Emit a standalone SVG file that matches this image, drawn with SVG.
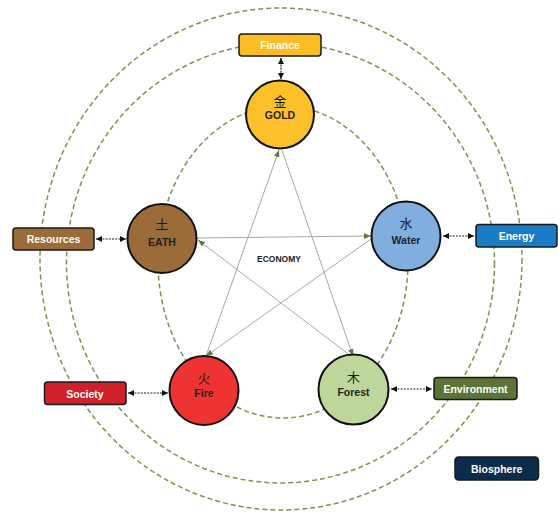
<svg xmlns="http://www.w3.org/2000/svg" width="558" height="513" viewBox="0 0 558 513">
<style>
.ring{fill:none;stroke:#7a9650;stroke-width:1.5;stroke-dasharray:5 3}
.star{fill:none;stroke:#a8aaa4;stroke-width:1;marker-end:url(#ag)}
.link{fill:none;stroke:#222;stroke-width:1.2;stroke-dasharray:2 1.2;marker-start:url(#ab);marker-end:url(#ab)}
.el{stroke:#111;stroke-width:2}
.box{stroke:#1a1a1a;stroke-width:1.5}
.ch{font-family:"Noto Sans CJK SC","Noto Sans CJK JP",sans-serif;font-size:13px;fill:#1a1a1a;text-anchor:middle}
.en{font-family:"Liberation Sans",Arial,sans-serif;font-weight:bold;font-size:10.5px;fill:#1f1f1f;text-anchor:middle}
.bt{font-family:"Liberation Sans",Arial,sans-serif;font-weight:bold;font-size:10.5px;fill:#fff;text-anchor:middle}
.eco{font-family:"Liberation Sans",Arial,sans-serif;font-weight:bold;font-size:8.5px;fill:#222;text-anchor:middle}
</style>
<defs>
<marker id="ag" viewBox="0 0 10 10" refX="10" refY="5" markerWidth="7" markerHeight="7" orient="auto-start-reverse"><path d="M0,1 L10,5 L0,9 z" fill="#5b7a3c"/></marker>
<marker id="ab" viewBox="0 0 10 10" refX="10" refY="5" markerWidth="5" markerHeight="5" orient="auto-start-reverse"><path d="M0,0 L10,5 L0,10 z" fill="#111"/></marker>
</defs>
<rect width="558" height="513" fill="#fff"/>
<g id="rings">
<ellipse class="ring" cx="281" cy="259" rx="241" ry="251"/>
<ellipse class="ring" cx="280.5" cy="263" rx="214" ry="220"/>
<ellipse class="ring" cx="283" cy="262" rx="125" ry="156"/>
</g>
<g id="connectors">
<line class="star" x1="206" y1="356" x2="279" y2="150"/>
<line class="star" x1="282" y1="150" x2="353" y2="356"/>
<line class="star" x1="351" y1="356" x2="198" y2="240"/>
<line class="star" x1="197" y1="238" x2="371" y2="236"/>
<line class="star" x1="371" y1="239" x2="206" y2="356"/>
<line class="link" x1="281" y1="58" x2="281" y2="79"/>
<line class="link" x1="96" y1="239" x2="126" y2="239"/>
<line class="link" x1="443" y1="236" x2="474" y2="236"/>
<line class="link" x1="128" y1="393" x2="168" y2="393"/>
<line class="link" x1="391" y1="389" x2="432" y2="389"/>
</g>
<text class="eco" x="279" y="262">ECONOMY</text>
<g id="gold"><circle class="el" cx="280" cy="114.5" r="34" fill="#fcc02a"/><text class="ch" x="280" y="106">金</text><text class="en" x="280" y="119">GOLD</text></g>
<g id="earth"><circle class="el" cx="162" cy="238.5" r="34.5" fill="#9c6b3a"/><text class="ch" x="162" y="229">土</text><text class="en" x="162" y="246">EATH</text></g>
<g id="water"><circle class="el" cx="406" cy="236" r="34.5" fill="#80aedf"/><text class="ch" x="406" y="228">水</text><text class="en" x="406" y="244">Water</text></g>
<g id="fire"><circle class="el" cx="204" cy="390.5" r="34.5" fill="#ee3332"/><text class="ch" x="204" y="383">火</text><text class="en" x="204" y="397">Fire</text></g>
<g id="forest"><circle class="el" cx="353.5" cy="389.5" r="35" fill="#bdd79b"/><text class="ch" x="353.5" y="382">木</text><text class="en" x="353.5" y="396">Forest</text></g>
<g id="finance"><rect class="box" x="239" y="34" width="82" height="22" rx="3" fill="#fbbd22"/><text class="bt" x="280" y="49">Finance</text></g>
<g id="resources"><rect class="box" x="13" y="228" width="81" height="22" rx="3" fill="#9c6b3a"/><text class="bt" x="53.5" y="243">Resources</text></g>
<g id="energy"><rect class="box" x="476" y="224.5" width="81" height="22.5" rx="3" fill="#1a7cc4"/><text class="bt" x="516.5" y="240">Energy</text></g>
<g id="society"><rect class="box" x="44.5" y="382" width="81.5" height="22.5" rx="3" fill="#d0202a"/><text class="bt" x="85" y="397.5">Society</text></g>
<g id="environment"><rect class="box" x="434" y="377.5" width="83" height="22" rx="3" fill="#5b7334"/><text class="bt" x="475.5" y="392.5">Environment</text></g>
<g id="biosphere"><rect class="box" x="455" y="457" width="83.5" height="23" rx="3.5" fill="#0c2c4c"/><text class="bt" x="496.7" y="472.5">Biosphere</text></g>
</svg>
